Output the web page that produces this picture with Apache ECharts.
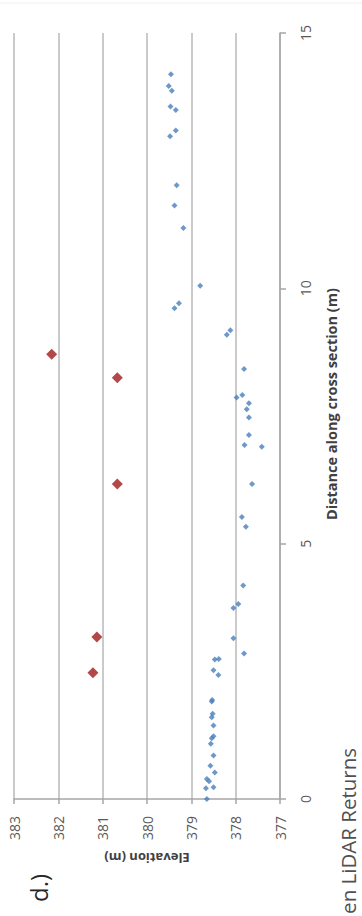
<!DOCTYPE html>
<html>
<head>
<meta charset="utf-8">
<script src="https://cdn.jsdelivr.net/npm/echarts@6/dist/echarts.min.js"></script>
<style>
html,body{margin:0;padding:0;background:#fff;}
#c{width:362px;height:916px;}
</style>
</head>
<body>
<div id="c"></div>
<script>
// Distance along cross section (m) for green LiDAR returns
const groundDist = [0.00,0.21,0.23,0.35,0.39,0.52,0.65,0.85,1.08,1.19,1.23,1.44,1.60,1.67,1.91,1.94,2.43,2.52,2.73,2.74,2.85,3.15,3.74,3.82,4.18,5.33,5.52,6.17,6.90,6.93,7.13,7.47,7.63,7.75,7.86,7.91,8.42,9.09,9.18,9.61,9.71,10.05,11.18,11.62,12.02,12.98,13.09,13.49,13.56,13.87,13.96,14.19];
// Elevation (m) for green LiDAR returns
const groundElev = [378.65,378.67,378.50,378.60,378.65,378.47,378.57,378.50,378.56,378.54,378.50,378.50,378.54,378.52,378.54,378.53,378.39,378.50,378.47,378.38,377.81,378.05,378.05,377.94,377.83,377.77,377.86,377.63,377.41,377.80,377.70,377.70,377.75,377.70,377.98,377.85,377.81,378.20,378.12,379.38,379.28,378.80,379.18,379.38,379.33,379.48,379.35,379.35,379.47,379.44,379.51,379.46];
// Red markers
const redDist = [2.47,3.17,6.17,8.25,8.71];
const redElev = [381.22,381.13,380.67,380.67,382.15];
// Tick labels
const elevTicks = [377,378,379,380,381,382,383];
const distTicks = [0,5,10,15];

const font = '"Open Sans", "Noto Sans", sans-serif';
const chart = echarts.init(document.getElementById('c'), null, {renderer:'svg'});
const pairs = (a,b) => a.map((v,i)=>[b[i], v]);
chart.setOption({
  animation:false,
  backgroundColor:'#ffffff',
  grid:{left:14,right:82,top:33,bottom:117,containLabel:false},
  xAxis:{
    type:'value', min:elevTicks[0], max:elevTicks[elevTicks.length-1], interval:1, inverse:true,
    position:'bottom',
    name:'Elevation (m)', nameLocation:'middle', nameGap:52, nameRotate:180,
    nameTextStyle:{fontFamily:font,fontSize:13,fontWeight:'bold',color:'#404040'},
    axisLine:{show:true,onZero:false,lineStyle:{color:'#a6a6a6',width:1.5}},
    axisTick:{show:true,length:5,lineStyle:{color:'#a6a6a6',width:1.5}},
    axisLabel:{rotate:90,margin:17,fontFamily:font,fontSize:14,color:'#595959'},
    splitLine:{show:true,lineStyle:{color:'#b8b8b8',width:1.5}}
  },
  yAxis:{
    type:'value', min:distTicks[0], max:distTicks[distTicks.length-1], interval:5,
    position:'right',
    name:'Distance along cross section (m)', nameLocation:'middle', nameGap:44, nameRotate:90,
    nameTextStyle:{fontFamily:font,fontSize:14.5,fontWeight:'bold',color:'#404040',padding:[0,0,0,24]},
    axisLine:{show:true,onZero:false,lineStyle:{color:'#a6a6a6',width:1.5}},
    axisTick:{show:true,length:6,lineStyle:{color:'#a6a6a6',width:1.5}},
    axisLabel:{rotate:90,margin:18,fontFamily:font,fontSize:14,color:'#595959'},
    splitLine:{show:false}
  },
  series:[
    {type:'scatter', data:pairs(groundDist,groundElev), symbol:'diamond', symbolSize:6,
     itemStyle:{color:'#4a7ebb'}},
    {type:'scatter', data:pairs(redDist,redElev), symbol:'diamond', symbolSize:11,
     itemStyle:{color:'#a01a1a'}}
  ],
  graphic:[
    {type:'line', shape:{x1:0,y1:3,x2:362,y2:3}, style:{stroke:'#f0f0f0',lineWidth:1}},
    {type:'text', x:38, y:888, rotation:Math.PI/2,
     style:{text:'d.)', font:'24px '+font, fill:'#262626', textAlign:'center', textVerticalAlign:'middle'}},
    {type:'text', x:348, y:748, rotation:Math.PI/2,
     style:{text:'en LiDAR Returns', font:'20.5px '+font, fill:'#505050', textAlign:'right', textVerticalAlign:'middle'}}
  ]
});
</script>
</body>
</html>
